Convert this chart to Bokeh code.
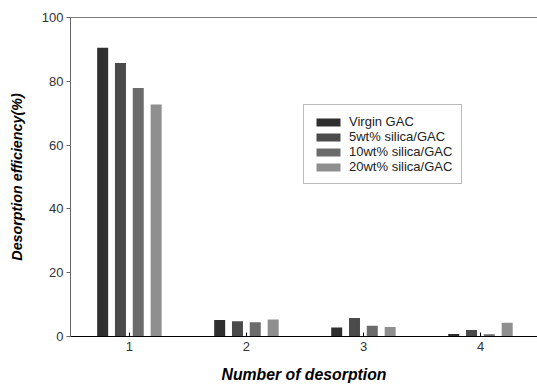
from bokeh.plotting import figure
from bokeh.models import ColumnDataSource, Span, FixedTicker, Legend, LegendItem
from bokeh.transform import dodge
from bokeh.embed import file_html
from bokeh.resources import INLINE

cycles = [1, 2, 3, 4]
series_names = ["Virgin GAC", "5wt% silica/GAC", "10wt% silica/GAC", "20wt% silica/GAC"]
virgin = [90.5, 5.2, 2.8, 0.8]
silica5 = [85.7, 4.8, 5.8, 2.0]
silica10 = [77.9, 4.5, 3.4, 0.7]
silica20 = [72.7, 5.3, 3.0, 4.3]
y_ticks = [0, 20, 40, 60, 80, 100]

colors = ["#2f2f2f", "#4b4b4b", "#6b6b6b", "#8f8f8f"]
offsets = [-0.229, -0.077, 0.075, 0.228]

src = ColumnDataSource(dict(x=cycles, s0=virgin, s1=silica5, s2=silica10, s3=silica20))

FONT = "Liberation Sans"

p = figure(width=537, height=385, output_backend="svg", toolbar_location=None,
           x_range=(0.496, 4.487), y_range=(0, 100),
           min_border_left=70, min_border_right=0, min_border_top=17, min_border_bottom=0)
p.outline_line_color = None
p.grid.visible = False
p.background_fill_color = "white"

renderers = []
for i, col in enumerate(["s0", "s1", "s2", "s3"]):
    r = p.vbar(x=dodge("x", offsets[i], range=p.x_range), top=col, width=0.094,
               bottom=0, source=src, fill_color=colors[i], line_color=None)
    renderers.append(r)

p.add_layout(Span(location=100, dimension="width", line_color="black", line_width=1))

# axes
xa = p.xaxis[0]
xa.ticker = FixedTicker(ticks=cycles)
xa.major_tick_in = 4
xa.major_tick_out = 0
xa.minor_tick_line_color = None
xa.axis_line_color = "black"
xa.major_tick_line_color = "black"
xa.major_label_text_font = FONT
xa.major_label_text_font_size = "13px"
xa.major_label_text_color = "#333333"
xa.major_label_standoff = 5
xa.axis_label = "Number of desorption"
xa.axis_label_text_font = FONT
xa.axis_label_text_font_style = "bold italic"
xa.axis_label_text_font_size = "15.8px"
xa.axis_label_text_color = "black"
xa.axis_label_standoff = 12

ya = p.yaxis[0]
ya.ticker = FixedTicker(ticks=y_ticks)
ya.major_tick_in = 0
ya.major_tick_out = 4
ya.minor_tick_line_color = None
ya.axis_line_color = "#666666"
ya.major_tick_line_color = "#666666"
ya.major_label_text_font = FONT
ya.major_label_text_font_size = "13px"
ya.major_label_text_color = "#333333"
ya.major_label_standoff = 3
ya.axis_label = "Desorption efficiency(%)"
ya.axis_label_text_font = FONT
ya.axis_label_text_font_style = "bold italic"
ya.axis_label_text_font_size = "14.3px"
ya.axis_label_text_color = "black"
ya.axis_label_standoff = 14

legend = Legend(items=[LegendItem(label=series_names[i], renderers=[renderers[i]]) for i in range(4)],
                location=(233, 152))
legend.glyph_width = 30
legend.glyph_height = 10
legend.label_height = 12
legend.spacing = 0
legend.padding = 9
legend.margin = 0
legend.label_standoff = 6
legend.label_text_font = FONT
legend.label_text_font_size = "13px"
legend.label_text_color = "#222222"
legend.border_line_color = "#777777"
legend.border_line_width = 1
legend.background_fill_color = "white"
legend.background_fill_alpha = 1
p.add_layout(legend, "center")

open("out.html", "w").write(file_html(p, INLINE))
